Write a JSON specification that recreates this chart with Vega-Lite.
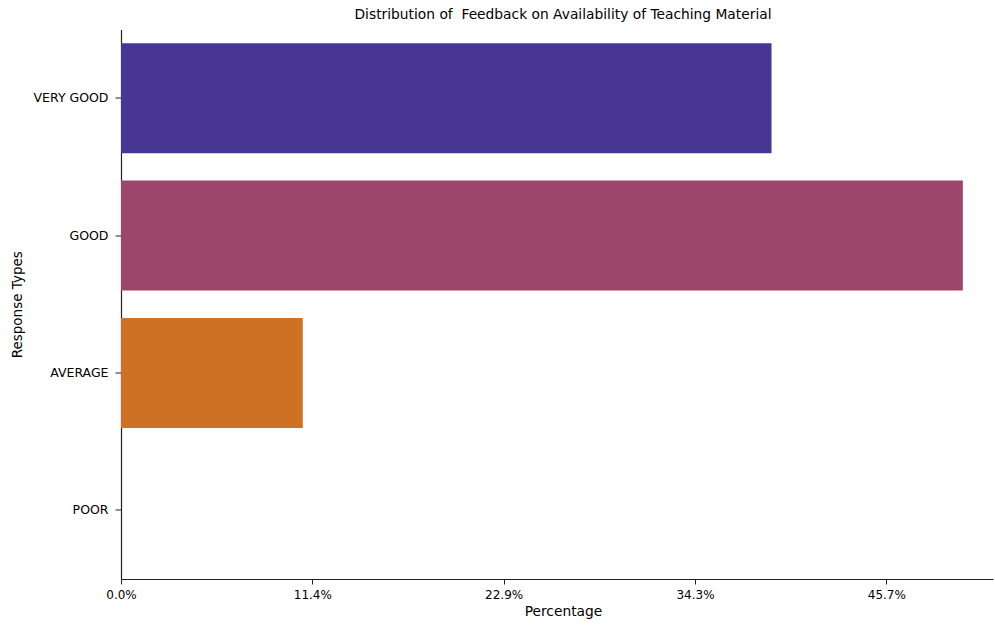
{
  "$schema": "https://vega.github.io/schema/vega-lite/v6.json",
  "autosize": {"type": "none"},
  "padding": {"left": 121, "top": 29.5, "right": 2, "bottom": 48},
  "width": 872,
  "height": 549.5,
  "background": "white",
  "title": {
    "text": "Distribution of\u00a0 Feedback on Availability of Teaching Material",
    "font": "DejaVu Sans",
    "fontSize": 13.8,
    "fontWeight": "normal",
    "color": "black",
    "anchor": "middle",
    "dx": 6,
    "offset": 8
  },
  "data": {
    "values": [
      {"response": "VERY GOOD", "count": 68},
      {"response": "GOOD", "count": 88},
      {"response": "AVERAGE", "count": 19},
      {"response": "POOR", "count": 0}
    ]
  },
  "mark": {"type": "bar"},
  "encoding": {
    "y": {
      "field": "response",
      "type": "nominal",
      "sort": ["VERY GOOD", "GOOD", "AVERAGE", "POOR"],
      "scale": {"paddingInner": 0.2, "paddingOuter": 0.1},
      "axis": {
        "title": "Response Types",
        "titleFont": "DejaVu Sans",
        "titleFontSize": 13.5,
        "titleFontWeight": "normal",
        "titleColor": "black",
        "titleX": -104,
        "titleBaseline": "middle",
        "labelFont": "DejaVu Sans",
        "labelFontSize": 12.5,
        "labelColor": "black",
        "labelPadding": 7,
        "tickSize": 6,
        "tickColor": "#222",
        "domainColor": "#222",
        "tickWidth": 1,
        "domainWidth": 1.2,
        "grid": false
      }
    },
    "x": {
      "field": "count",
      "type": "quantitative",
      "scale": {"domain": [0, 91.15], "nice": false, "zero": true},
      "axis": {
        "title": "Percentage",
        "titleFont": "DejaVu Sans",
        "titleFontSize": 13.8,
        "titleFontWeight": "normal",
        "titleColor": "black",
        "titleX": 442,
        "titlePadding": 4,
        "values": [0, 20, 40, 60, 80],
        "labelExpr": "format(datum.value / 175, '.1%')",
        "labelFont": "DejaVu Sans",
        "labelFontSize": 12,
        "labelColor": "black",
        "labelPadding": 5,
        "labelFlush": false,
        "tickSize": 5,
        "tickColor": "#222",
        "domainColor": "#222",
        "tickWidth": 1,
        "domainWidth": 1.2,
        "grid": false
      }
    },
    "color": {
      "field": "response",
      "type": "nominal",
      "scale": {
        "domain": ["VERY GOOD", "GOOD", "AVERAGE", "POOR"],
        "range": ["#483694", "#9c466c", "#cd7224", "#f0d050"]
      },
      "legend": null
    }
  },
  "config": {"view": {"stroke": null}}
}
